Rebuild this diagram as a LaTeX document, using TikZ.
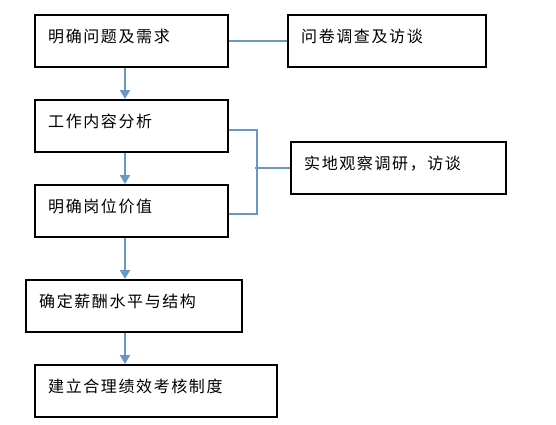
\documentclass[tikz,border=0pt]{standalone}
\usepackage{fontspec}
\setmainfont{Noto Sans CJK SC}[LetterSpace=10]
\usetikzlibrary{arrows.meta}
\definecolor{linkblue}{RGB}{108,150,198}

\begin{document}
\begin{tikzpicture}[x=1pt,y=-1pt,
  box/.style={draw,line width=2.4pt,anchor=north west,align=left,inner xsep=13pt,inner ysep=0pt,
    text height=27pt,text depth=25pt,font=\fontsize{16}{16}\selectfont},
  flow/.style={draw=linkblue,line width=2pt,-{Triangle[width=10pt,length=9pt]}},
  link/.style={draw=linkblue,line width=2pt}]
  \useasboundingbox (0,0) rectangle (556,424);
  \node[box,text width=167pt] (need) at (34,14) {明确问题及需求};
  \node[box,text width=172pt] (survey) at (287,14) {问卷调查及访谈};
  \node[box,text width=167pt] (content) at (34,99) {工作内容分析};
  \node[box,text width=167pt] (value) at (34,184) {明确岗位价值};
  \node[box,text width=190pt] (pay) at (25,279) {确定薪酬水平与结构};
  \node[box,text width=216pt] (perf) at (34,364) {建立合理绩效考核制度};
  \node[box,text width=189pt] (observe) at (290,141) {实地观察调研，访谈};
  \coordinate (axis) at (125,0);
  \draw[link] (need) -- (survey);
  \draw[flow] (axis |- need.south) -- (axis |- content.north);
  \draw[flow] (axis |- content.south) -- (axis |- value.north);
  \draw[flow] (axis |- value.south) -- (axis |- pay.north);
  \draw[flow] (axis |- pay.south) -- (axis |- perf.north);
  \draw[link] ([yshift=-4pt]content.east) -- ++(28,0) |- ([yshift=-3pt]value.east);
  \draw[link] (observe.west) -- ++(-35,0);
\end{tikzpicture}
\end{document}
